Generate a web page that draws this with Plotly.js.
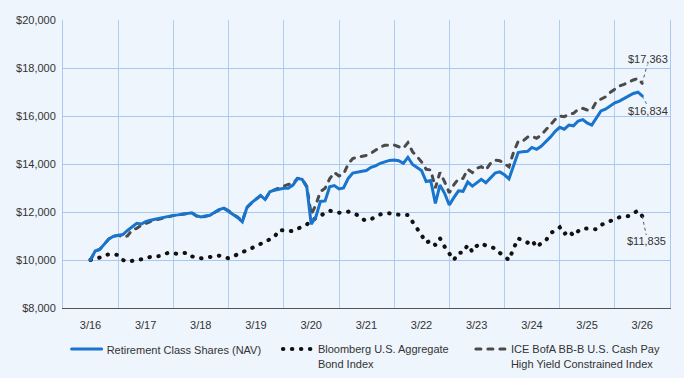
<!DOCTYPE html>
<html>
<head>
<meta charset="utf-8">
<script src="https://cdn.plot.ly/plotly-3.0.1.min.js"></script>
<style>
  html, body { margin: 0; padding: 0; background: #EEF5FC; }
  #chart { width: 684px; height: 378px; }
  path.js-line { stroke-linecap: round; }
</style>
</head>
<body>
<div id="chart"></div>
<script>
// ---- data ----
const startYear = 2016, startMonth = 3, nMonths = 121;
const seriesNames = [
  "Retirement Class Shares (NAV)",
  "Bloomberg U.S. Aggregate<br>Bond Index",
  "ICE BofA BB-B U.S. Cash Pay<br>High Yield Constrained Index"
];
const navValues = [
  10000,10375,10440,10650,10880,10990,11030,11060,11230,11390,11530,11500,
  11600,11660,11700,11730,11790,11830,11860,11880,11900,11940,11970,11845,
  11790,11830,11860,11990,12100,12160,12030,11880,11760,11590,12200,12390,
  12530,12690,12520,12840,12910,12960,12990,12990,13120,13390,13360,13030,
  11490,11800,12440,12460,13050,13100,12960,13000,13400,13620,13670,13700,
  13730,13860,13920,14030,14090,14150,14165,14140,14030,14280,13980,13850,
  13730,13270,13310,12360,13120,12780,12290,12600,12880,12860,13250,13080,
  13220,13360,13220,13440,13620,13670,13550,13380,13900,14480,14515,14530,
  14690,14610,14740,14920,15120,15350,15530,15450,15620,15590,15790,15850,
  15710,15620,15900,16210,16280,16400,16550,16620,16720,16850,16940,16990,
  16834
];
const bondValues = [
  10000,10030,10100,10210,10240,10250,10200,10000,9930,9950,9990,10030,
  10060,10130,10150,10165,10240,10305,10280,10250,10280,10305,10150,10095,
  10070,10100,10130,10160,10180,10120,10070,10150,10260,10330,10400,10500,
  10600,10700,10800,10880,10950,11250,11230,11220,11200,11300,11400,11480,
  11640,11750,11840,11950,12055,12000,11970,11990,12015,11950,11875,11700,
  11640,11700,11780,11900,11930,11945,11900,11875,11880,11875,11595,11350,
  11040,10720,10810,10625,10905,10555,10250,10000,10305,10305,10625,10345,
  10585,10695,10600,10530,10485,10300,10150,10000,10485,10905,10805,10720,
  10830,10530,10700,10805,11110,11250,11360,11080,11220,11010,11200,11320,
  11320,11300,11280,11460,11530,11600,11700,11780,11800,11835,11950,12055,
  11835
];
const hyValues = [
  10000,10375,10440,10650,10880,10990,11030,10960,11000,11250,11320,11450,
  11530,11600,11660,11710,11770,11820,11850,11880,11900,11940,11960,11830,
  11780,11820,11860,11980,12090,12160,12050,11900,11780,11620,12190,12380,
  12520,12680,12520,12840,12920,13000,13060,13150,13180,13400,13370,13060,
  11900,12300,12850,12990,13380,13650,13500,13580,14000,14230,14280,14330,
  14360,14450,14590,14700,14780,14790,14790,14720,14650,14890,14510,14300,
  14090,13780,13750,13000,13650,13260,12800,13130,13380,13400,13780,13640,
  13820,13890,13750,14030,14160,14140,14000,13880,14500,14940,14950,15120,
  15160,15070,15200,15420,15650,15850,16000,15970,16080,16110,16280,16320,
  16250,16250,16600,16720,16800,16980,17120,17250,17320,17420,17500,17570,
  17363
];
const xTickLabels = ["3/16","3/17","3/18","3/19","3/20","3/21","3/22","3/23","3/24","3/25","3/26"];
const yTickValues = [8000,10000,12000,14000,16000,18000,20000];
const yTickLabels = ["$8,000","$10,000","$12,000","$14,000","$16,000","$18,000","$20,000"];
const endLabels = ["$16,834","$11,835","$17,363"];

// ---- x domain (monthly dates) ----
function pad(n){ return (n < 10 ? "0" : "") + n; }
const dates = [];
for (let i = 0; i < nMonths; i++) {
  const m = startMonth - 1 + i;
  dates.push((startYear + Math.floor(m / 12)) + "-" + pad(m % 12 + 1) + "-01");
}
const xTickVals = xTickLabels.map((t, i) => (startYear + i) + "-03-01");
const last = nMonths - 1;

const BLUE = "#1874CD", GRAY = "#4A4A4A", BLACK = "#111111", TXT = "#333333";
const FONT = "Liberation Sans, Arial, sans-serif";

// drawing order: HY (bottom), bond, NAV (top)
const traces = [
  { x: dates, y: hyValues, name: seriesNames[2], mode: "lines", legend: "legend3",
    line: { color: GRAY, width: 3, dash: "5px,7px" }, hoverinfo: "skip" },
  { x: dates, y: bondValues, name: seriesNames[1], mode: "lines", legend: "legend2",
    line: { color: BLACK, width: 4, dash: "0.5px,8.5px" }, hoverinfo: "skip" },
  { x: dates, y: navValues, name: seriesNames[0], mode: "lines", legend: "legend",
    line: { color: BLUE, width: 3 }, hoverinfo: "skip" }
];

function legendAt(xp) {
  return { x: xp, y: -0.095, xanchor: "left", yanchor: "top", orientation: "h",
    bgcolor: "rgba(0,0,0,0)", font: { family: FONT, size: 11, color: TXT },
    valign: "top", itemwidth: 30 };
}

const finalVals = [navValues[last], bondValues[last], hyValues[last]];
const lineColors = [BLUE, "#555555", "#555555"];
const offs = [[5.5, -15], [4.5, -25], [5.5, 24]];
const annotations = finalVals.map((v, k) => ({
  x: dates[last], y: v, xref: "x", yref: "y", text: endLabels[k], showarrow: false,
  xshift: offs[k][0], yshift: offs[k][1],
  font: { family: FONT, size: 11, color: TXT }
}));
const shapes = finalVals.map((v, k) => ({
  type: "line", xref: "x", yref: "y", xsizemode: "pixel", ysizemode: "pixel",
  xanchor: dates[last], yanchor: v,
  x0: 0, y0: 0, x1: offs[k][0] * 0.9, y1: offs[k][1] > 0 ? offs[k][1] - 6 : offs[k][1] + 6,
  line: { color: lineColors[k], width: 1, dash: "dot" }
}));

const layout = {
  width: 684, height: 378,
  margin: { l: 63, r: 14, t: 20, b: 70, autoexpand: false },
  paper_bgcolor: "#EEF5FC", plot_bgcolor: "#EEF5FC",
  font: { family: FONT, size: 11, color: TXT },
  showlegend: true,
  legend: legendAt(0.006),
  legend2: legendAt(0.354),
  legend3: legendAt(0.672),
  xaxis: {
    type: "date", range: ["2015-09-01", "2026-09-01"],
    tickmode: "array", tickvals: xTickVals, ticktext: xTickLabels,
    showgrid: false, ticks: "", zeroline: false, ticklabelstandoff: 7,
    showline: true, linecolor: "#555555", linewidth: 1,
    minor: { tick0: "2015-09-01", dtick: "M12", showgrid: true, gridcolor: "#AFCDF2", gridwidth: 1, ticks: "" },
    tickfont: { family: FONT, size: 11, color: TXT }
  },
  yaxis: {
    range: [8000, 20000], tickmode: "array", tickvals: yTickValues, ticktext: yTickLabels,
    showgrid: true, gridcolor: "#A9C8F0", gridwidth: 1, zeroline: false, ticks: "",
    ticklabelstandoff: 4,
    showline: true, mirror: true, linecolor: "#A9C8F0", linewidth: 1,
    tickfont: { family: FONT, size: 11, color: TXT }
  },
  annotations: annotations,
  shapes: shapes
};

Plotly.newPlot("chart", traces, layout, { staticPlot: true, displayModeBar: false });
</script>
</body>
</html>
